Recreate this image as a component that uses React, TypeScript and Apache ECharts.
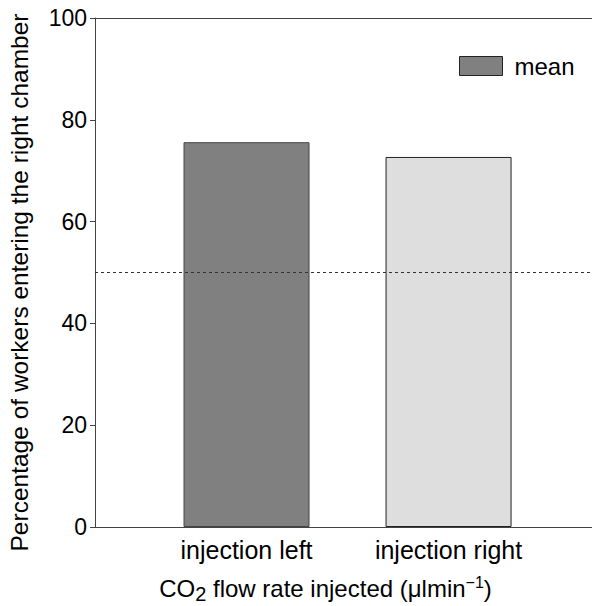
import React, { useEffect, useRef } from "react";
import * as echarts from "echarts";

const categories = ["injection left", "injection right"];
const positions = [1, 2];
const meanValues = [75.6, 72.7];
const barColors = ["#808080", "#dedede"];
const chanceLevel = 50;
const yTicks = { min: 0, max: 100, interval: 20 };

export default function App() {
  const ref = useRef<HTMLDivElement>(null);
  useEffect(() => {
    if (!ref.current) return;
    const chart = echarts.init(ref.current, undefined, { renderer: "svg" });
    const font = "Liberation Sans, Arial, Helvetica, sans-serif";
    chart.setOption({
      animation: false,
      textStyle: { fontFamily: font },
      grid: { left: 95, right: 0, top: 18, bottom: 79, containLabel: false, outerBoundsMode: "none" },
      legend: {
        left: 454,
        top: 49,
        itemWidth: 43,
        itemHeight: 19,
        itemGap: 0,
        icon: "rect",
        textStyle: { fontSize: 24, color: "#000", fontFamily: font, padding: [0, 0, 0, 7] },
        data: [{ name: "mean", itemStyle: { color: barColors[0], borderColor: "#222", borderWidth: 1 } }],
      },
      xAxis: [
        {
          type: "value",
          min: 0.25,
          max: 2.71,
          splitLine: { show: false },
          axisLine: { show: true, onZero: false, lineStyle: { color: "#444", width: 1 } },
          axisTick: { show: false },
          axisLabel: {
            customValues: positions,
            formatter: (v: number) => categories[positions.indexOf(v)] ?? "",
            fontSize: 25,
            color: "#000",
            margin: 10,
            fontFamily: font,
          },
          name: "CO{sub|2} flow rate injected (μlmin{sup|−1})",
          nameLocation: "middle",
          nameGap: 45,
          nameTextStyle: {
            fontSize: 24,
            color: "#000",
            fontFamily: font,
            padding: [0, 36, 0, 0],
            rich: {
              sub: { fontSize: 20, padding: [12, 0, 0, 0], fontFamily: font, color: "#000" },
              sup: { fontSize: 16, padding: [0, 0, 12, 0], fontFamily: font, color: "#000" },
            },
          },
        },
        {
          type: "value",
          position: "top",
          min: 0.25,
          max: 2.71,
          splitLine: { show: false },
          axisLine: { show: true, onZero: false, lineStyle: { color: "#444", width: 1 } },
          axisTick: { show: false },
          axisLabel: { show: false },
        },
      ],
      yAxis: {
        type: "value",
        min: yTicks.min,
        max: yTicks.max,
        interval: yTicks.interval,
        splitLine: { show: false },
        axisLine: { show: true, lineStyle: { color: "#444", width: 1 } },
        axisTick: { show: true, length: 5, inside: false, lineStyle: { color: "#444" } },
        axisLabel: { fontSize: 23, color: "#000", margin: 8, fontFamily: font },
        name: "Percentage of workers entering the right chamber",
        nameLocation: "middle",
        nameGap: 63,
        nameTextStyle: { fontSize: 24.5, color: "#000", fontFamily: font, padding: [0, 20, 0, 0] },
      },
      series: [
        {
          name: "mean",
          type: "bar",
          barWidth: 126,
          data: positions.map((p, i) => ({
            value: [p, meanValues[i]],
            itemStyle: { color: barColors[i], borderColor: i === 0 ? "#444" : "#222", borderWidth: 1 },
          })),
          markLine: {
            silent: true,
            symbol: "none",
            label: { show: false },
            lineStyle: { type: [3, 3], color: "#333", width: 1 },
            data: [{ yAxis: chanceLevel }],
          },
        },
      ],
    });
    return () => chart.dispose();
  }, []);
  return <div ref={ref} style={{ position: "absolute", left: 0, top: 0, width: 592, height: 606 }} />;
}
